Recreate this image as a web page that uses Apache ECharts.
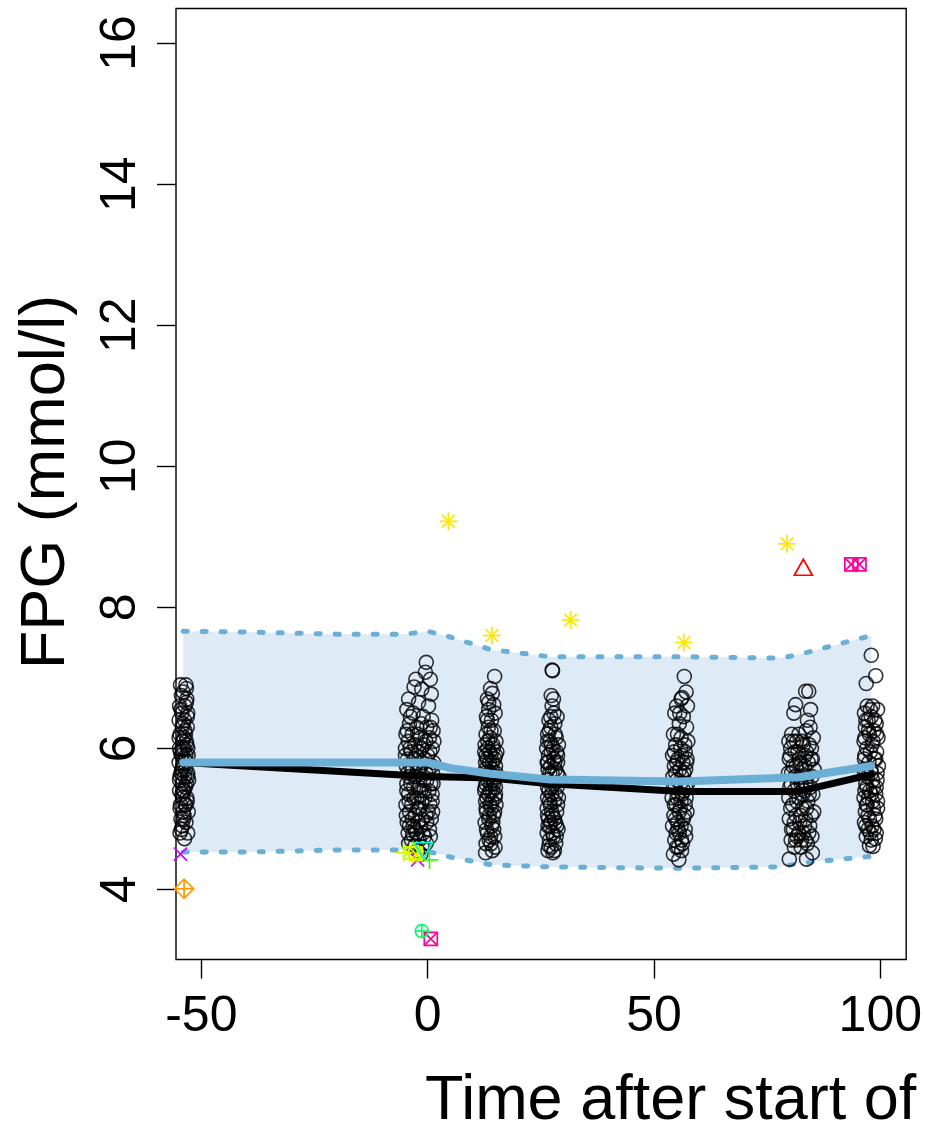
<!DOCTYPE html>
<html><head><meta charset="utf-8">
<script src="https://cdn.jsdelivr.net/npm/echarts@6/dist/echarts.min.js"></script>
<style>html,body{margin:0;padding:0;background:#fff}#c{width:925px;height:1136px}</style>
</head><body><div id="c"></div>
<script>
// ---------- data ----------
const xTicks = [-50, 0, 50, 100];
const yTicks = [4, 6, 8, 10, 12, 14, 16];

const visitA = [[-54.6,6.9],[-53.4,6.9],[-54.0,6.8],[-53.2,6.7],[-54.8,6.6],[-53.6,6.6],[-54.3,6.5],[-53.0,6.5],[-54.9,6.4],[-53.7,6.4],[-54.2,6.3],[-53.1,6.3],[-54.7,6.2],[-53.5,6.2],[-54.1,6.1],[-53.3,6.1],[-54.8,6.0],[-53.8,6.0],[-53.0,6.0],[-54.4,5.9],[-53.4,5.9],[-54.9,5.8],[-53.9,5.8],[-53.1,5.8],[-54.3,5.7],[-53.5,5.7],[-54.7,5.6],[-53.7,5.6],[-53.0,5.6],[-54.2,5.5],[-53.3,5.5],[-54.8,5.4],[-53.8,5.4],[-54.1,5.3],[-53.2,5.3],[-54.6,5.2],[-53.6,5.2],[-54.0,5.1],[-52.9,5.1],[-54.5,5.0],[-53.4,4.95],[-54.2,4.9],[-53.0,4.8],[-54.7,4.8],[-53.8,5.05],[-54.4,6.75],[-53.3,6.85],[-52.8,5.55],[-53.7,4.72],
  [-54.5,6.55],[-53.1,6.45],[-54.0,6.35],[-53.6,6.25],[-54.9,6.15],[-53.2,6.05],[-54.6,5.95],[-53.7,5.85],[-54.1,5.75],[-53.0,5.65],[-54.8,5.55],[-53.5,5.45],[-54.3,5.35],[-53.1,5.25],[-54.7,5.15],[-53.9,5.0],[-54.4,4.85],[-53.3,6.65],[-54.2,6.0],[-53.4,5.2],[-54.0,5.4],[-53.8,6.15],[-52.9,5.9],[-54.5,5.65]];
const visitB = [[-0.3,7.22],[-0.5,7.08],[-2.6,6.98],[0.6,6.98],[-3.0,6.87],[-1.3,6.84],[0.8,6.77],[-4.2,6.7],[-2.0,6.65],[0.2,6.6],[-4.6,6.55],[-3.2,6.5],[-1.0,6.45],[0.9,6.4],[-4.0,6.35],[-2.4,6.3],[-0.2,6.3],[1.2,6.25],[-4.8,6.2],[-3.4,6.2],[-1.6,6.15],[0.4,6.15],[-4.3,6.1],[-2.8,6.05],[-0.8,6.05],[1.0,6.0],[-4.9,6.0],[-3.6,5.95],[-1.9,5.95],[0.0,5.9],[-4.4,5.85],[-2.9,5.85],[-1.1,5.8],[1.3,5.8],[-4.7,5.75],[-3.3,5.7],[-2.2,5.7],[-0.4,5.65],[1.1,5.65],[-4.1,5.6],[-2.6,5.6],[-0.9,5.55],[0.7,5.5],[-4.6,5.5],[-3.1,5.45],[-1.5,5.4],[0.3,5.4],[-4.2,5.35],[-2.4,5.3],[-0.6,5.3],[1.0,5.25],[-4.8,5.2],[-3.5,5.2],[-1.8,5.15],[0.1,5.1],[-4.0,5.1],[-2.7,5.05],[-1.2,5.0],[0.8,5.0],[-4.5,4.95],[-3.2,4.9],[-1.6,4.9],[0.4,4.85],[-4.3,4.8],[-2.5,4.8],[-0.7,4.75],[-3.6,4.7],[-1.9,4.7],[-2.8,4.62],[-1.2,4.6],[-0.3,4.66],
  [-3.8,6.45],[-1.4,6.35],[0.6,6.3],[-4.5,6.25],[-2.2,6.2],[-0.4,6.1],[1.4,6.1],[-3.9,6.0],[-1.4,6.0],[0.5,5.95],[-4.9,5.9],[-2.5,5.9],[-0.6,5.85],[1.0,5.75],[-3.8,5.75],[-1.6,5.75],[0.2,5.7],[-4.4,5.65],[-2.9,5.6],[-0.2,5.55],[1.2,5.5],[-3.7,5.5],[-2.0,5.45],[-0.8,5.4],[1.0,5.35],[-4.6,5.4],[-3.0,5.3],[-1.3,5.25],[0.5,5.2],[-4.1,5.25],[-2.2,5.15],[-0.4,5.05],[1.1,5.1],[-4.7,5.05],[-3.4,5.0],[-2.1,4.95],[-0.2,4.95],[-4.0,4.9],[-2.8,4.85],[-1.0,4.8],[0.6,4.75],[-4.2,4.65],[-2.2,4.55],[-3.3,4.78],[-1.5,4.5]];
const visitC = [[14.8,7.02],[13.9,6.85],[14.3,6.78],[13.2,6.7],[14.6,6.62],[13.5,6.55],[14.9,6.5],[13.0,6.45],[14.1,6.4],[13.4,6.3],[14.7,6.25],[12.9,6.2],[13.8,6.15],[15.1,6.1],[12.7,6.05],[14.4,6.05],[13.3,6.0],[15.3,5.95],[12.6,5.95],[14.0,5.9],[13.1,5.85],[14.8,5.85],[12.8,5.8],[13.7,5.8],[15.0,5.75],[14.2,5.7],[12.7,5.65],[13.6,5.6],[15.2,5.6],[14.5,5.55],[12.9,5.5],[13.9,5.5],[15.0,5.45],[12.6,5.4],[14.3,5.4],[13.4,5.35],[14.9,5.3],[12.8,5.25],[13.8,5.2],[15.1,5.2],[14.1,5.15],[13.0,5.1],[14.6,5.05],[13.5,5.0],[12.7,4.95],[14.2,4.9],[13.2,4.8],[14.8,4.75],[13.6,4.7],[14.9,4.6],[12.8,4.52],[14.0,4.65],
  [13.3,6.1],[14.5,6.0],[12.9,5.9],[15.0,5.9],[13.7,5.95],[14.3,5.8],[12.8,5.7],[13.9,5.65],[15.1,5.65],[13.2,5.55],[14.6,5.5],[12.7,5.45],[13.8,5.4],[15.0,5.35],[13.1,5.3],[14.2,5.25],[12.9,5.15],[14.8,5.1],[13.6,5.05],[14.4,4.95],[13.0,4.85],[14.6,4.85],[13.9,4.75],[12.9,4.65],[14.3,4.55],[13.5,6.65],[14.0,6.25],[13.2,6.4]];
const visitD = [[27.5,7.11],[27.6,7.1],[27.3,6.75],[27.8,6.7],[27.5,6.6],[28.6,6.45],[26.8,6.4],[28.1,6.35],[27.2,6.3],[26.5,6.2],[28.4,6.15],[27.0,6.1],[28.9,6.05],[26.3,6.0],[27.7,6.0],[28.5,5.95],[26.7,5.9],[27.9,5.85],[26.4,5.8],[28.7,5.8],[27.2,5.75],[26.6,5.7],[28.2,5.7],[27.5,5.65],[29.0,5.6],[26.3,5.55],[27.8,5.5],[28.6,5.45],[26.8,5.4],[27.4,5.35],[28.9,5.3],[26.5,5.3],[28.0,5.25],[27.1,5.2],[26.4,5.15],[28.5,5.1],[27.6,5.05],[26.7,5.0],[28.2,4.95],[27.0,4.9],[28.8,4.85],[26.4,4.8],[27.8,4.75],[26.9,4.7],[28.3,4.65],[27.3,4.6],[26.6,4.55],[27.7,4.52],
  [26.9,6.25],[28.2,6.2],[27.4,6.05],[26.5,6.1],[28.7,5.9],[27.3,5.95],[26.6,5.8],[28.1,5.8],[27.0,5.65],[28.6,5.65],[26.5,5.45],[27.5,5.45],[28.3,5.35],[26.9,5.25],[28.7,5.2],[27.4,5.1],[26.5,5.05],[28.0,5.0],[27.2,4.95],[28.5,4.9],[26.6,4.9],[27.6,4.8],[28.4,4.75],[26.8,4.62],[28.0,4.55],[27.2,6.45],[27.9,6.5]];
const visitE = [[56.7,7.02],[57.1,6.8],[56.2,6.72],[55.0,6.6],[57.4,6.6],[54.6,6.5],[56.5,6.45],[55.6,6.35],[57.2,6.3],[54.3,6.2],[56.0,6.15],[57.5,6.1],[54.8,6.05],[55.9,6.0],[56.9,5.95],[54.1,5.9],[55.3,5.85],[57.3,5.85],[56.4,5.8],[54.5,5.75],[55.7,5.7],[57.0,5.7],[54.2,5.6],[56.2,5.6],[55.1,5.55],[57.4,5.5],[54.7,5.45],[56.6,5.4],[55.4,5.35],[54.0,5.3],[57.1,5.3],[56.0,5.25],[54.9,5.2],[55.8,5.15],[57.3,5.1],[54.4,5.05],[56.5,5.0],[55.2,4.95],[54.1,4.9],[56.9,4.85],[55.6,4.8],[54.6,4.7],[56.3,4.65],[55.0,4.6],[54.3,4.5],[55.5,4.42],[56.1,4.55],
  [55.2,6.2],[56.8,6.05],[54.5,5.95],[56.1,5.9],[57.2,5.8],[55.0,5.8],[56.6,5.65],[54.8,5.65],[55.9,5.5],[57.0,5.45],[54.3,5.45],[56.2,5.35],[55.1,5.3],[56.9,5.2],[54.5,5.2],[55.6,5.1],[56.7,5.05],[54.8,5.0],[56.0,4.9],[55.3,4.85],[57.0,4.75],[54.9,4.8],[56.1,4.7],[55.4,4.6],[55.7,6.5],[56.0,6.7]];
const visitF = [[83.5,6.81],[84.2,6.81],[81.3,6.62],[84.6,6.55],[80.9,6.5],[83.9,6.4],[84.5,6.3],[83.6,6.25],[80.4,6.2],[82.0,6.2],[85.2,6.15],[79.8,6.1],[81.5,6.1],[83.0,6.05],[84.8,6.0],[80.2,6.0],[81.8,5.95],[83.4,5.9],[85.0,5.85],[79.9,5.85],[82.3,5.8],[84.1,5.8],[80.7,5.75],[82.7,5.7],[85.4,5.7],[79.7,5.65],[81.2,5.6],[83.8,5.6],[80.3,5.5],[82.5,5.5],[84.6,5.45],[81.0,5.4],[83.2,5.4],[85.1,5.35],[79.8,5.3],[82.0,5.3],[84.0,5.25],[80.6,5.2],[82.8,5.15],[85.3,5.1],[81.4,5.05],[83.5,5.0],[79.9,5.0],[82.2,4.95],[84.4,4.9],[80.8,4.85],[83.0,4.8],[81.6,4.75],[84.9,4.75],[80.3,4.7],[82.6,4.7],[83.9,4.65],[79.9,4.43],[83.7,4.43],[85.0,4.52],[81.0,4.6],
  [80.8,6.1],[82.8,6.1],[84.3,6.05],[81.2,5.95],[83.7,5.95],[80.1,5.9],[82.1,5.85],[84.7,5.85],[81.4,5.75],[83.3,5.75],[80.4,5.65],[82.3,5.6],[84.9,5.6],[81.7,5.5],[83.6,5.5],[80.0,5.45],[82.9,5.35],[84.3,5.35],[81.5,5.25],[80.2,5.15],[83.7,5.15],[84.8,5.05],[82.4,5.05],[81.0,4.95],[83.3,4.9],[80.4,4.85],[84.2,4.8],[82.0,4.8],[81.3,4.7],[83.5,4.7],[82.5,4.6]];
const visitG = [[98.0,7.32],[99.0,7.03],[96.9,6.92],[97.1,6.6],[98.3,6.6],[99.4,6.55],[96.5,6.5],[98.0,6.45],[97.3,6.4],[99.1,6.35],[96.7,6.3],[98.6,6.25],[97.6,6.2],[99.5,6.15],[96.4,6.1],[98.2,6.05],[97.0,6.0],[99.2,5.95],[96.6,5.9],[98.7,5.85],[97.5,5.8],[99.6,5.75],[96.3,5.7],[98.1,5.65],[97.2,5.6],[99.3,5.55],[96.8,5.5],[98.5,5.45],[97.7,5.4],[99.0,5.35],[96.4,5.3],[98.3,5.25],[97.1,5.2],[99.4,5.15],[96.7,5.1],[98.8,5.05],[97.6,5.0],[96.5,4.95],[98.2,4.9],[97.3,4.85],[99.1,4.8],[96.9,4.75],[98.0,4.7],[97.6,4.62],[98.4,4.61],
  [97.8,6.55],[96.8,6.4],[98.8,6.4],[97.4,6.25],[99.2,6.2],[96.6,6.15],[98.4,6.1],[97.8,5.95],[96.5,5.85],[99.0,5.85],[97.9,5.7],[96.9,5.65],[99.3,5.65],[98.3,5.55],[97.0,5.45],[99.1,5.45],[96.6,5.4],[98.0,5.35],[97.4,5.3],[99.4,5.25],[96.9,5.2],[98.5,5.15],[97.3,5.05],[99.0,5.0],[96.8,4.9],[98.6,4.85],[97.8,4.8],[98.9,4.72]];

const medianLine = [[-54,5.8],[0,5.6],[14,5.58],[27,5.5],[56,5.39],[82,5.39],[98,5.63]];
const modelLine  = [[-54,5.8],[0,5.8],[5,5.72],[14,5.64],[27,5.56],[56,5.53],[82,5.59],[98,5.75]];

const bandT     = [-54, -40, -20, -5, 0, 5, 14, 27, 56, 78, 82, 98];
const bandUpper = [7.66, 7.65, 7.62, 7.62, 7.66, 7.58, 7.4, 7.3, 7.3, 7.28, 7.33, 7.6];
const bandLower = [4.53, 4.53, 4.56, 4.56, 4.54, 4.46, 4.35, 4.32, 4.3, 4.32, 4.37, 4.47];

const asteriskPts   = [[4.6,9.22],[14.2,7.6],[31.6,7.82],[56.6,7.5],[79.4,8.9]];
const triUpPts      = [[83.0,8.54]];
const squareXPts    = [[93.6,8.61],[95.4,8.61],[0.7,3.3]];
const circlePlusPts = [[-1.3,3.41]];
const diamondPlusPts= [[-53.8,4.01]];
const crossPts      = [[-54.6,4.5],[-2.2,4.42]];
const plusGreenPts  = [[0.4,4.42]];
const plusLimePts   = [[-5.3,4.52]];
const starLimePts   = [[-3.3,4.52]];
const squareXLimePts= [[-2.6,4.5]];
const triDownPts    = [[-0.9,4.58]];

// ---------- rendering ----------
const FONT = '"Liberation Sans", Arial, Helvetica, sans-serif';

function pch(kind, color) {
  return function (params, api) {
    const p = api.coord([api.value(0), api.value(1)]);
    const x = p[0], y = p[1];
    const st = { stroke: color, fill: null, lineWidth: 1.7 };
    const L = (x1, y1, x2, y2) => ({ type: 'line', shape: { x1, y1, x2, y2 }, style: st });
    let c = [];
    if (kind === 'asterisk') {
      const r = 9, d = 6.4;
      c = [L(x - r, y, x + r, y), L(x, y - r, x, y + r), L(x - d, y - d, x + d, y + d), L(x - d, y + d, x + d, y - d)];
    } else if (kind === 'triUp') {
      c = [{ type: 'polygon', shape: { points: [[x, y - 10], [x - 9, y + 6], [x + 9, y + 6]] }, style: st }];
    } else if (kind === 'triDown') {
      c = [{ type: 'polygon', shape: { points: [[x, y + 10], [x - 9, y - 6], [x + 9, y - 6]] }, style: st }];
    } else if (kind === 'star') {
      c = [{ type: 'polygon', shape: { points: [[x, y - 10], [x - 9, y + 6], [x + 9, y + 6]] }, style: st },
           { type: 'polygon', shape: { points: [[x, y + 10], [x - 9, y - 6], [x + 9, y - 6]] }, style: st }];
    } else if (kind === 'squareX') {
      const h = 6.5;
      c = [{ type: 'rect', shape: { x: x - h, y: y - h, width: 2 * h, height: 2 * h }, style: st },
           L(x - h, y - h, x + h, y + h), L(x - h, y + h, x + h, y - h)];
    } else if (kind === 'circlePlus') {
      const r = 6.5;
      c = [{ type: 'circle', shape: { cx: x, cy: y, r }, style: st }, L(x - r, y, x + r, y), L(x, y - r, x, y + r)];
    } else if (kind === 'diamondPlus') {
      const r = 9.5;
      c = [{ type: 'polygon', shape: { points: [[x, y - r], [x + r, y], [x, y + r], [x - r, y]] }, style: st },
           L(x - r, y, x + r, y), L(x, y - r, x, y + r)];
    } else if (kind === 'cross') {
      const r = 6.5;
      c = [L(x - r, y - r, x + r, y + r), L(x - r, y + r, x + r, y - r)];
    } else if (kind === 'plus') {
      const r = 9;
      c = [L(x - r, y, x + r, y), L(x, y - r, x, y + r)];
    }
    return { type: 'group', children: c };
  };
}

function marker(data, kind, color) {
  return { type: 'custom', data: data, renderItem: pch(kind, color), z: 6, silent: true, animation: false };
}

function visit(data) {
  return {
    type: 'scatter', data: data, symbol: 'circle', symbolSize: 14, z: 3, silent: true, clip: true,
    itemStyle: { color: 'rgba(0,0,0,0)', borderColor: '#000', borderWidth: 1.6 }
  };
}

const chart = echarts.init(document.getElementById('c'), null, { renderer: 'canvas' });
chart.setOption({
  animation: false,
  backgroundColor: '#fff',
  grid: { left: 176, right: 15.7, top: 8.5, bottom: 176.5, show: true, borderColor: '#000', borderWidth: 1.4, backgroundColor: 'transparent' },
  xAxis: {
    type: 'value', min: -55.59, max: 105.72,
    axisLine: { show: false, onZero: false },
    splitLine: { show: false },
    axisTick: { show: true, inside: false, length: 19, lineStyle: { color: '#000', width: 1.4 }, customValues: xTicks },
    axisLabel: { show: true, customValues: xTicks, margin: 33, fontSize: 50, color: '#000', fontFamily: FONT, formatter: v => String(v) }
  },
  yAxis: {
    type: 'value', min: 3.007, max: 16.49,
    axisLine: { show: false, onZero: false },
    splitLine: { show: false },
    axisTick: { show: true, inside: false, length: 19, lineStyle: { color: '#000', width: 1.4 }, customValues: yTicks },
    axisLabel: { show: true, customValues: yTicks, rotate: 90, margin: 30, fontSize: 50, color: '#000', fontFamily: FONT, formatter: v => String(v) }
  },
  graphic: [
    { type: 'text', x: 47, y: 482, rotation: Math.PI / 2, silent: true,
      style: { text: 'FPG (mmol/l)', font: '63px ' + FONT, fill: '#000', textAlign: 'center', textVerticalAlign: 'middle' } },
    { type: 'text', x: 425, y: 1102, silent: true,
      style: { text: 'Time after start of', font: '63px ' + FONT, fill: '#000', textAlign: 'left', textVerticalAlign: 'middle' } }
  ],
  series: [
    {
      type: 'custom', z: 1, silent: true, data: [[bandT[0], bandLower[0]]],
      renderItem: function (params, api) {
        const pts = [];
        for (let i = 0; i < bandT.length; i++) pts.push(api.coord([bandT[i], bandUpper[i]]));
        for (let i = bandT.length - 1; i >= 0; i--) pts.push(api.coord([bandT[i], bandLower[i]]));
        return { type: 'polygon', shape: { points: pts }, style: { fill: '#deebf7', stroke: null } };
      }
    },
    { type: 'line', z: 2, silent: true, showSymbol: false, data: bandT.map((t, i) => [t, bandUpper[i]]),
      lineStyle: { color: '#6baed6', width: 5, type: [4, 15], cap: 'round' } },
    { type: 'line', z: 2, silent: true, showSymbol: false, data: bandT.map((t, i) => [t, bandLower[i]]),
      lineStyle: { color: '#6baed6', width: 5, type: [4, 15], cap: 'round' } },
    visit(visitA), visit(visitB), visit(visitC), visit(visitD), visit(visitE), visit(visitF), visit(visitG),
    { type: 'line', z: 4, silent: true, showSymbol: false, data: medianLine,
      lineStyle: { color: '#000', width: 7, cap: 'round', join: 'round' } },
    { type: 'line', z: 5, silent: true, showSymbol: false, data: modelLine,
      lineStyle: { color: '#6baed6', width: 8, cap: 'round', join: 'round' } },
    marker(asteriskPts, 'asterisk', '#FFE600'),
    marker(triUpPts, 'triUp', '#FF0000'),
    marker(squareXPts, 'squareX', '#FF0099'),
    marker(circlePlusPts, 'circlePlus', '#00FF66'),
    marker(diamondPlusPts, 'diamondPlus', '#FF9900'),
    marker(crossPts, 'cross', '#CC00FF'),
    marker(plusGreenPts, 'plus', '#33FF00'),
    marker(plusLimePts, 'plus', '#CCFF00'),
    marker(starLimePts, 'star', '#CCFF00'),
    marker(squareXLimePts, 'squareX', '#E6F000'),
    marker(triDownPts, 'triDown', '#00FFCC')
  ]
});
</script>
</body></html>
